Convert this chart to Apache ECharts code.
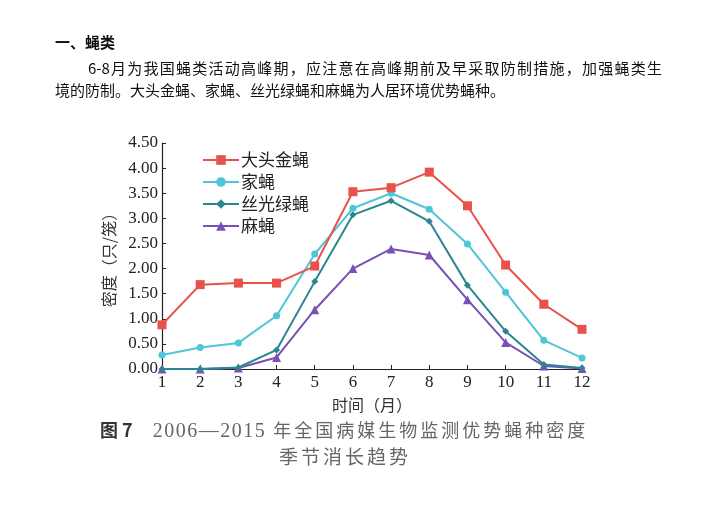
<!DOCTYPE html>
<html>
<head>
<meta charset="utf-8">
<script src="https://cdn.jsdelivr.net/npm/echarts@6/dist/echarts.min.js"></script>
<style>
    html, body { margin: 0; padding: 0; background: #fff; }
    #wrap { position: relative; width: 710px; height: 516px; }
    #chart { position: absolute; left: 0; top: 0; width: 710px; height: 516px; }
    .txt { position: absolute; font-family: "Noto Sans CJK SC", sans-serif; color: #111; white-space: nowrap; }
    #head { left: 55px; top: 31px; font-size: 15px; font-weight: bold; }
    #line1 { left: 88px; top: 57px; width: 574px; font-size: 15px; text-align: justify; text-align-last: justify; white-space: normal; }
    #line2 { left: 55px; top: 79px; font-size: 15px; }
    #cap1 { left: 100px; top: 416px; font-size: 18px; color: #666; letter-spacing: 3px; }
    #cap1 b { color: #333; letter-spacing: 0; margin-right: 20px; }
    #cap1 .num { font-family: "Liberation Serif", serif; font-size: 20px; letter-spacing: 1.5px; }
    #cap2 { left: 279px; top: 442px; font-size: 19px; color: #666; letter-spacing: 3px; }
</style>
</head>
<body>
<div id="wrap">
    <div id="chart"></div>
    <div class="txt" id="head">一、蝇类</div>
    <div class="txt" id="line1">6-8月为我国蝇类活动高峰期，应注意在高峰期前及早采取防制措施，加强蝇类生</div>
    <div class="txt" id="line2">境的防制。大头金蝇、家蝇、丝光绿蝇和麻蝇为人居环境优势蝇种。</div>
    <div class="txt" id="cap1"><b>图 7</b><span class="num">2006—2015</span> 年全国病媒生物监测优势蝇种密度</div>
    <div class="txt" id="cap2">季节消长趋势</div>
</div>
<script>
var months = [1, 2, 3, 4, 5, 6, 7, 8, 9, 10, 11, 12];
var seriesNames = ["大头金蝇", "家蝇", "丝光绿蝇", "麻蝇"];
var dtjy = [0.88, 1.68, 1.71, 1.71, 2.05, 3.53, 3.61, 3.92, 3.25, 2.07, 1.29, 0.79];
var jiay = [0.28, 0.43, 0.52, 1.06, 2.29, 3.20, 3.50, 3.18, 2.49, 1.53, 0.57, 0.22];
var sglv = [0.00, 0.00, 0.03, 0.38, 1.74, 3.07, 3.35, 2.94, 1.67, 0.75, 0.09, 0.02];
var maying = [0.00, 0.00, 0.02, 0.23, 1.18, 2.00, 2.39, 2.27, 1.38, 0.53, 0.06, 0.01];
var colors = ["#e8514c", "#4ec6d8", "#2a8791", "#7a50b6"];
var symbols = ["rect", "circle", "diamond", "triangle"];
var symbolSizes = [9, 7, 7, 9];

function pairs(vals) {
    var out = [];
    for (var i = 0; i < months.length; i++) {
        out.push([months[i], vals[i]]);
    }
    return out;
}

var allData = [dtjy, jiay, sglv, maying];
var series = [];
for (var k = 0; k < seriesNames.length; k++) {
    series.push({
        name: seriesNames[k],
        type: 'line',
        data: pairs(allData[k]),
        symbol: symbols[k],
        symbolSize: symbolSizes[k],
        showAllSymbol: true,
        lineStyle: { width: 2, color: colors[k] },
        itemStyle: { color: colors[k] },
        z: 10 - k
    });
}

var serif = "Liberation Serif";
var cjk = "Noto Sans CJK SC";
var myChart = echarts.init(document.getElementById('chart'));
myChart.setOption({
    animation: false,
    color: colors,
    legend: {
        orient: 'vertical',
        left: 197,
        top: 146,
        itemWidth: 36,
        itemHeight: 12,
        itemGap: 4,
        data: seriesNames,
        textStyle: { fontFamily: cjk, fontSize: 17, lineHeight: 18, color: '#222', padding: [0, 0, 0, -3] }
    },
    grid: { left: 162, right: 128, top: 143, bottom: 147 },
    xAxis: {
        type: 'value',
        min: 1,
        max: 12,
        interval: 1,
        name: '时间（月）',
        nameLocation: 'middle',
        nameGap: 28,
        nameTextStyle: { fontFamily: cjk, fontSize: 16, color: '#333' },
        axisLine: { lineStyle: { color: '#222', width: 1.2 } },
        axisTick: { inside: true, length: 4, lineStyle: { color: '#222' } },
        axisLabel: { fontFamily: serif, fontSize: 17, color: '#222', margin: 5 },
        splitLine: { show: false }
    },
    yAxis: {
        type: 'value',
        min: 0,
        max: 4.5,
        interval: 0.5,
        name: '密度（只/笼）',
        nameLocation: 'middle',
        nameGap: 44,
        nameTextStyle: { fontFamily: cjk, fontSize: 16, color: '#333' },
        axisLine: { show: true, lineStyle: { color: '#222', width: 1.2 } },
        axisTick: { show: true, inside: true, length: 4, lineStyle: { color: '#222' } },
        axisLabel: {
            fontFamily: serif, fontSize: 17, color: '#222', margin: 4,
            formatter: function(v) { return v.toFixed(2); }
        },
        splitLine: { show: false }
    },
    series: series
});
</script>
</body>
</html>
